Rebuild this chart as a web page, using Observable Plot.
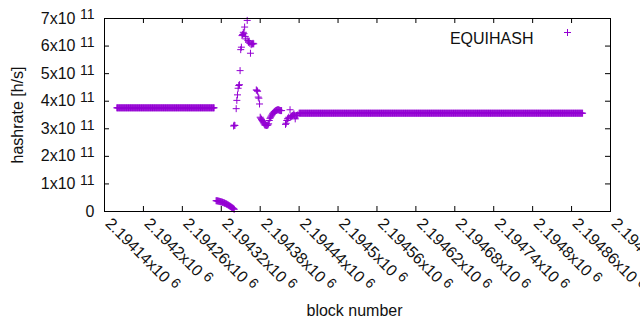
<!DOCTYPE html>
<html>
<head>
<meta charset="utf-8">
<script src="https://cdn.jsdelivr.net/npm/d3@7"></script>
<script src="https://cdn.jsdelivr.net/npm/@observablehq/plot@0.6"></script>
<style>
  html, body { margin: 0; padding: 0; background: #fff; }
  svg { display: block; }
</style>
</head>
<body>
<div id="chart"></div>
<script>
// ---- data ----
const seriesName = "EQUIHASH";
const xTicks = [2194140, 2194200, 2194260, 2194320, 2194380, 2194440, 2194500, 2194560, 2194620, 2194680, 2194740, 2194800, 2194860, 2194920];
const xTickLabels = ["2.19414x10^6", "2.1942x10^6", "2.19426x10^6", "2.19432x10^6", "2.19438x10^6", "2.19444x10^6", "2.1945x10^6", "2.19456x10^6", "2.19462x10^6", "2.19468x10^6", "2.19474x10^6", "2.1948x10^6", "2.19486x10^6", "2.19492x10^6"];
const yTicks = [0, 1e11, 2e11, 3e11, 4e11, 5e11, 6e11, 7e11];
const yTickLabels = ["0", "1x10^11", "2x10^11", "3x10^11", "4x10^11", "5x10^11", "6x10^11", "7x10^11"];

// constant-hashrate stretches (one point per block)
const bandStart = [2194159, 2194440];
const bandEnd = [2194309, 2194877];
const bandValue = [3.76e11, 3.565e11];

// falling stretch
const dropBlocks = [2194312, 2194313, 2194314, 2194315, 2194316, 2194317, 2194318, 2194319, 2194320, 2194321, 2194322, 2194323, 2194324, 2194325, 2194326, 2194327, 2194328, 2194329, 2194330, 2194331, 2194332, 2194333, 2194334, 2194335, 2194336, 2194337, 2194338, 2194339, 2194340];
const dropValues = [0.39e11, 0.39e11, 0.385e11, 0.38e11, 0.375e11, 0.37e11, 0.36e11, 0.355e11, 0.35e11, 0.34e11, 0.335e11, 0.325e11, 0.315e11, 0.305e11, 0.295e11, 0.285e11, 0.27e11, 0.26e11, 0.245e11, 0.23e11, 0.215e11, 0.2e11, 0.185e11, 0.17e11, 0.15e11, 0.135e11, 0.12e11, 0.1e11, 0.08e11];

// oscillating stretch
const spikeBlocks = [2194339, 2194340, 2194341, 2194343, 2194344, 2194345, 2194346, 2194347, 2194348, 2194349, 2194350, 2194351, 2194352, 2194353, 2194354, 2194355, 2194356, 2194357, 2194358, 2194360, 2194361, 2194362, 2194363, 2194364, 2194365, 2194366, 2194367, 2194368, 2194369, 2194370,
  2194374, 2194375, 2194376, 2194377, 2194378, 2194379, 2194380, 2194381, 2194382, 2194383, 2194384, 2194385, 2194386, 2194387, 2194388, 2194389, 2194390, 2194391, 2194392, 2194393, 2194394, 2194395, 2194396, 2194397, 2194398, 2194399, 2194400, 2194401, 2194402, 2194403, 2194404, 2194405, 2194406, 2194407, 2194408, 2194409, 2194410, 2194411, 2194412, 2194413,
  2194419, 2194420, 2194421, 2194422, 2194423, 2194424, 2194426, 2194427, 2194428, 2194429, 2194430, 2194431, 2194432, 2194433, 2194434, 2194435, 2194436, 2194437, 2194438];
const spikeValues = [3.10e11, 3.13e11, 3.12e11, 3.73e11, 4.03e11, 4.23e11, 4.47e11, 4.57e11, 4.60e11, 5.11e11, 5.87e11, 5.96e11, 6.38e11, 6.42e11, 6.50e11, 6.45e11, 6.69e11, 6.35e11, 6.26e11, 6.93e11, 6.20e11, 6.14e11, 6.18e11, 6.10e11, 5.74e11, 6.05e11, 6.08e11, 6.08e11, 6.10e11, 6.08e11,
  4.41e11, 4.39e11, 4.36e11, 4.15e11, 4.11e11, 3.90e11, 3.42e11, 3.38e11, 3.34e11, 3.30e11, 3.26e11, 3.22e11, 3.18e11, 3.14e11, 3.14e11, 3.12e11, 3.12e11, 3.13e11, 3.14e11, 3.18e11, 3.30e11, 3.38e11, 3.42e11, 3.46e11, 3.50e11, 3.54e11, 3.57e11, 3.60e11, 3.62e11, 3.64e11, 3.66e11, 3.67e11, 3.68e11, 3.69e11, 3.69e11, 3.68e11, 3.67e11, 3.66e11, 3.66e11, 3.66e11,
  3.16e11, 3.20e11, 3.30e11, 3.36e11, 3.38e11, 3.42e11, 3.69e11, 3.42e11, 3.45e11, 3.47e11, 3.48e11, 3.50e11, 3.54e11, 3.48e11, 3.36e11, 3.48e11, 3.48e11, 3.49e11, 3.50e11];

// ---- build table ----
const points = [];
for (const b of d3.range(bandStart[0], bandEnd[0] + 1)) points.push({block: b, rate: bandValue[0]});
dropBlocks.forEach((b, i) => points.push({block: b, rate: dropValues[i]}));
spikeBlocks.forEach((b, i) => points.push({block: b, rate: spikeValues[i]}));
for (const b of d3.range(bandStart[1], bandEnd[1] + 1)) points.push({block: b, rate: bandValue[1]});

const color = "#9400d3";
const font = "Liberation Sans, Arial, sans-serif";
const plus = {
  draw(context, size) {
    const r = Math.sqrt(size / Math.PI);
    context.moveTo(-r, 0); context.lineTo(r, 0);
    context.moveTo(0, -r); context.lineTo(0, r);
  }
};
const tickLen = 5;
const plotW = 640 - 104 - 30, plotH = 330 - 18 - 119;

const chart = Plot.plot({
  width: 640,
  height: 330,
  marginLeft: 104,
  marginRight: 30,
  marginTop: 18,
  marginBottom: 119,
  style: {fontFamily: font, fontSize: "16px", background: "#fff", overflow: "hidden"},
  x: {domain: [2194140, 2194920], axis: null},
  y: {domain: [0, 7e11], axis: null},
  marks: [
    Plot.dot(points, {x: "block", y: "rate", symbol: plus, r: 3.5, fill: "none", stroke: color, strokeWidth: 1}),
    // inward ticks on all four sides
    Plot.tickX(xTicks, {x: d => d, insetTop: plotH - tickLen, stroke: "black"}),
    Plot.tickX(xTicks, {x: d => d, insetBottom: plotH - tickLen, stroke: "black"}),
    Plot.tickY(yTicks, {y: d => d, insetRight: plotW - tickLen, stroke: "black"}),
    Plot.tickY(yTicks, {y: d => d, insetLeft: plotW - tickLen, stroke: "black"}),
    Plot.frame({stroke: "black", strokeWidth: 1}),
    // tick labels
    Plot.text(yTicks, {y: d => d, text: (d, i) => yTickLabels[i], frameAnchor: "left", textAnchor: "end", dx: -10, fontSize: 16, fill: "#111", className: "ylab"}),
    Plot.text(xTicks, {x: d => d, text: (d, i) => xTickLabels[i], frameAnchor: "bottom", textAnchor: "start", rotate: 45, dy: 13, fontSize: 16, fill: "#111", className: "xlab"}),
    // axis titles
    Plot.text([0], {text: () => "hashrate [h/s]", frameAnchor: "left", textAnchor: "middle", rotate: -90, dx: -87, fontSize: 16, fill: "#111"}),
    Plot.text([0], {text: () => "block number", frameAnchor: "bottom", textAnchor: "middle", dx: -3, dy: 104, fontSize: 16, fill: "#111"}),
    // legend
    Plot.text([0], {text: () => seriesName, frameAnchor: "top-right", textAnchor: "end", dx: -77, dy: 14, fontSize: 16, fill: "#111"}),
    Plot.dot([0], {frameAnchor: "top-right", dx: -43, dy: 14, symbol: plus, r: 3.5, fill: "none", stroke: color, strokeWidth: 1})
  ]
});

function supify(svg, cls, supSize, dy) {
  d3.select(svg).selectAll(`.${cls} text`).each(function() {
    const t = d3.select(this);
    const s = t.text();
    const i = s.indexOf("^");
    if (i < 0) return;
    t.text(null);
    t.append("tspan").text(s.slice(0, i) + " ");
    t.append("tspan").attr("dy", dy).attr("font-size", supSize).text(s.slice(i + 1));
  });
}
supify(chart, "ylab", 14, "-0.3em");
supify(chart, "xlab", 14, "-0.3em");

document.getElementById("chart").appendChild(chart);
</script>
</body>
</html>
